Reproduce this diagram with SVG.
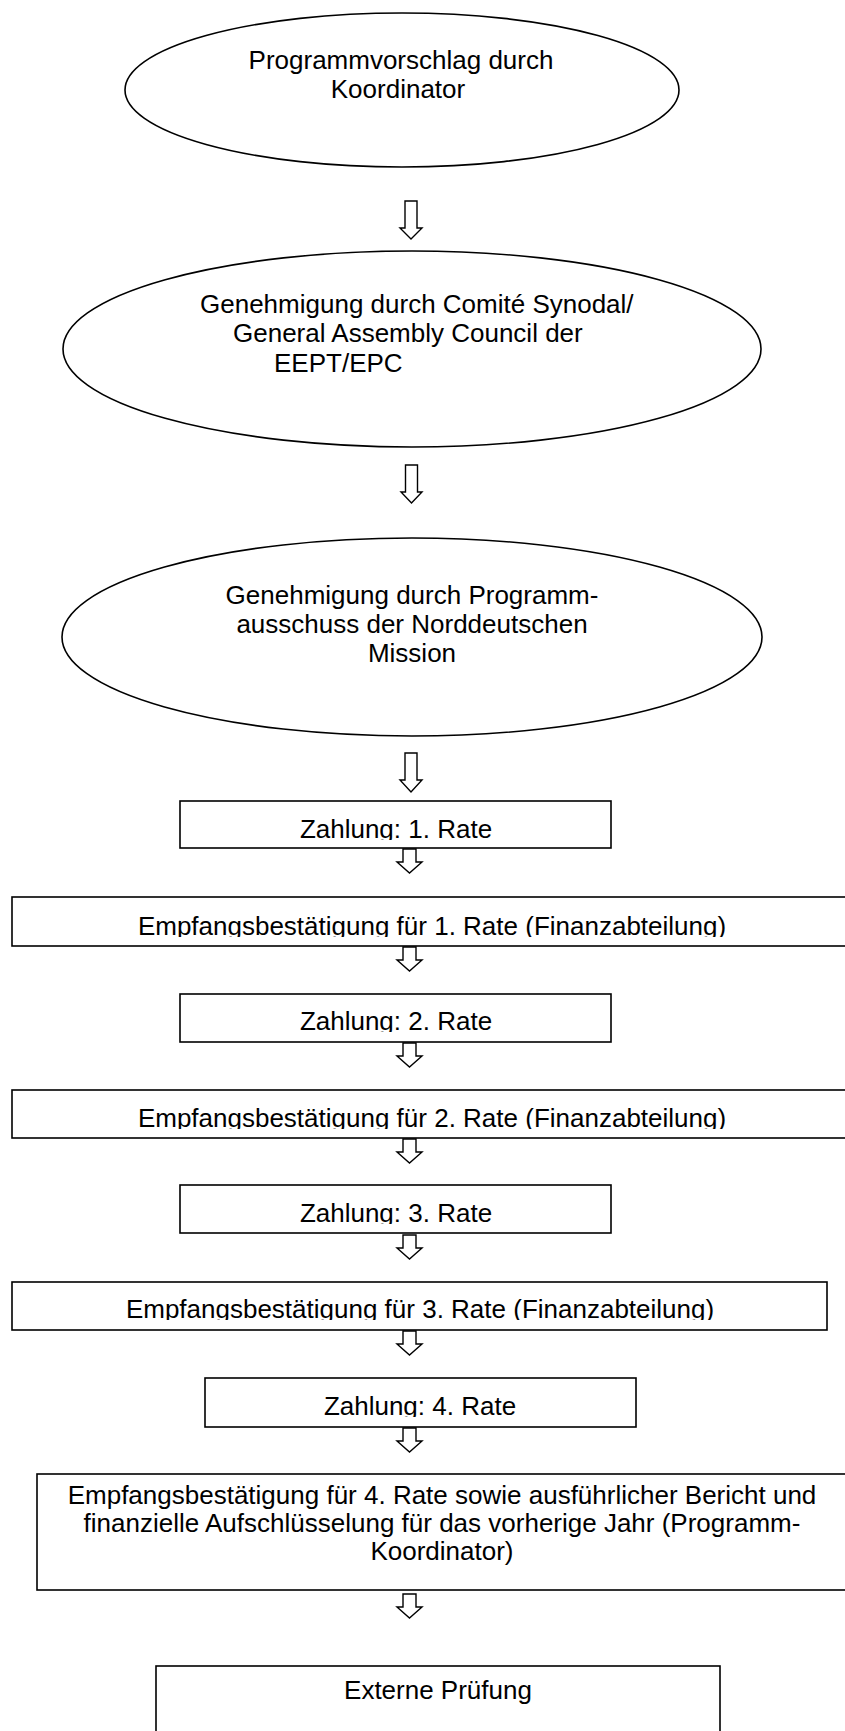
<svg xmlns="http://www.w3.org/2000/svg" width="845" height="1731" viewBox="0 0 845 1731">
<style>
.shape{fill:#fff;stroke:#000;stroke-width:1.6}
.t{font-family:"Liberation Sans",Arial,sans-serif;font-size:26px;fill:#000}
.c{text-anchor:middle}
.arrow{fill:#fff;stroke:#000;stroke-width:1.4;stroke-linejoin:miter}
</style>
<defs>
<clipPath id="c1"><rect x="0" y="801" width="845" height="39"/></clipPath>
<clipPath id="c2"><rect x="0" y="897" width="845" height="40"/></clipPath>
<clipPath id="c3"><rect x="0" y="994" width="845" height="38"/></clipPath>
<clipPath id="c4"><rect x="0" y="1090" width="845" height="39"/></clipPath>
<clipPath id="c5"><rect x="0" y="1185" width="845" height="39"/></clipPath>
<clipPath id="c6"><rect x="0" y="1282" width="845" height="38"/></clipPath>
<clipPath id="c7"><rect x="0" y="1378" width="845" height="39"/></clipPath>
</defs>
<rect width="845" height="1731" fill="#fff"/>
<g id="n1">
<ellipse class="shape" cx="402" cy="90" rx="277" ry="77"/>
<text class="t c" x="401" y="69">Programmvorschlag durch</text>
<text class="t c" x="398" y="98">Koordinator</text>
</g>
<g id="n2">
<ellipse class="shape" cx="412" cy="349" rx="349" ry="98"/>
<text class="t" x="200" y="313">Genehmigung durch Comité Synodal/</text>
<text class="t" x="233" y="342">General Assembly Council der</text>
<text class="t" x="274" y="372">EEPT/EPC</text>
</g>
<g id="n3">
<ellipse class="shape" cx="412" cy="637" rx="350" ry="99"/>
<text class="t c" x="412" y="604">Genehmigung durch Programm-</text>
<text class="t c" x="412" y="633">ausschuss der Norddeutschen</text>
<text class="t c" x="412" y="662">Mission</text>
</g>
<g id="n4">
<rect class="shape" x="180" y="801" width="431" height="47"/>
<text class="t c" x="396" y="838" clip-path="url(#c1)">Zahlung: 1. Rate</text>
</g>
<g id="n5">
<rect class="shape" x="12" y="897" width="850" height="49"/>
<text class="t c" x="432" y="935" clip-path="url(#c2)">Empfangsbestätigung für 1. Rate (Finanzabteilung)</text>
</g>
<g id="n6">
<rect class="shape" x="180" y="994" width="431" height="48"/>
<text class="t c" x="396" y="1030" clip-path="url(#c3)">Zahlung: 2. Rate</text>
</g>
<g id="n7">
<rect class="shape" x="12" y="1090" width="850" height="48"/>
<text class="t c" x="432" y="1127" clip-path="url(#c4)">Empfangsbestätigung für 2. Rate (Finanzabteilung)</text>
</g>
<g id="n8">
<rect class="shape" x="180" y="1185" width="431" height="48"/>
<text class="t c" x="396" y="1222" clip-path="url(#c5)">Zahlung: 3. Rate</text>
</g>
<g id="n9">
<rect class="shape" x="12" y="1282" width="815" height="48"/>
<text class="t c" x="420" y="1318" clip-path="url(#c6)">Empfangsbestätigung für 3. Rate (Finanzabteilung)</text>
</g>
<g id="n10">
<rect class="shape" x="205" y="1378" width="431" height="49"/>
<text class="t c" x="420" y="1415" clip-path="url(#c7)">Zahlung: 4. Rate</text>
</g>
<g id="n11">
<rect class="shape" x="37" y="1474" width="830" height="116"/>
<text class="t c" x="442" y="1504">Empfangsbestätigung für 4. Rate sowie ausführlicher Bericht und</text>
<text class="t c" x="442" y="1532">finanzielle Aufschlüsselung für das vorherige Jahr (Programm-</text>
<text class="t c" x="442" y="1560">Koordinator)</text>
</g>
<g id="n12">
<rect class="shape" x="156" y="1666" width="564" height="100"/>
<text class="t c" x="438" y="1699">Externe Prüfung</text>
</g>
<g id="connectors">
<polygon class="arrow" points="405,201 417,201 417,228 422,228 411,239 400,228 405,228"/>
<polygon class="arrow" points="405.5,465 417.5,465 417.5,492 422,492 411.5,503 401,492 405.5,492"/>
<polygon class="arrow" points="405,753 417,753 417,780 422,780 411,792 400,780 405,780"/>
<polygon class="arrow" points="403,849 416,849 416,862 422,862 409.5,873 397,862 403,862"/>
<polygon class="arrow" points="403,947 416,947 416,960 422,960 409.5,971 397,960 403,960"/>
<polygon class="arrow" points="403,1043 416,1043 416,1056 422,1056 409.5,1067 397,1056 403,1056"/>
<polygon class="arrow" points="403,1139 416,1139 416,1152 422,1152 409.5,1163 397,1152 403,1152"/>
<polygon class="arrow" points="403,1235 416,1235 416,1248 422,1248 409.5,1259 397,1248 403,1248"/>
<polygon class="arrow" points="403,1331 416,1331 416,1344 422,1344 409.5,1355 397,1344 403,1344"/>
<polygon class="arrow" points="403,1428 416,1428 416,1441 422,1441 409.5,1452 397,1441 403,1441"/>
<polygon class="arrow" points="403,1594 416,1594 416,1607 422,1607 409.5,1618 397,1607 403,1607"/>
</g>
</svg>
